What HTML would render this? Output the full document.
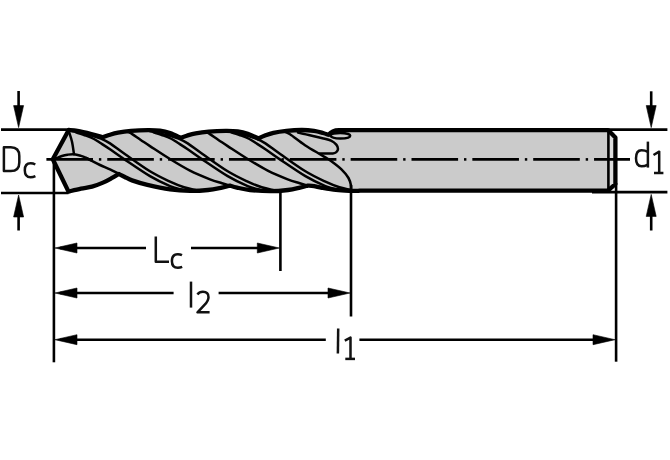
<!DOCTYPE html>
<html><head><meta charset="utf-8"><style>
html,body{margin:0;padding:0;background:#fff;width:670px;height:460px;overflow:hidden}
svg{display:block}
</style></head><body>
<svg width="670" height="460" viewBox="0 0 670 460">
<defs><filter id="bl" x="-5%" y="-5%" width="110%" height="110%"><feGaussianBlur stdDeviation="1.0"/></filter></defs>
<rect width="670" height="460" fill="#fff"/>
<g>
<path d="M 52.80 159.30 L 68.70 130.00 C 70.15 130.15 73.63 130.23 77.40 130.90 C 81.17 131.57 87.03 132.95 91.30 134.00 C 95.57 135.05 101.05 136.67 103.00 137.20 C 104.00 136.83 106.50 135.77 109.00 135.00 C 111.50 134.23 114.33 133.28 118.00 132.60 C 121.67 131.92 126.00 131.30 131.00 130.90 C 136.00 130.50 143.17 130.23 148.00 130.20 C 152.83 130.17 156.33 130.22 160.00 130.70 C 163.67 131.18 166.55 131.90 170.00 133.10 C 173.45 134.30 178.92 137.10 180.70 137.90 C 181.70 137.53 184.20 136.47 186.70 135.70 C 189.20 134.93 192.03 133.98 195.70 133.30 C 199.37 132.62 203.70 132.00 208.70 131.60 C 213.70 131.20 220.87 130.93 225.70 130.90 C 230.53 130.87 234.03 130.93 237.70 131.40 C 241.37 131.87 244.25 132.52 247.70 133.70 C 251.15 134.88 256.62 137.70 258.40 138.50 C 259.40 138.05 261.90 136.75 264.40 135.80 C 266.90 134.85 269.73 133.63 273.40 132.80 C 277.07 131.97 281.63 131.27 286.40 130.80 C 291.17 130.33 297.40 129.98 302.00 130.00 C 306.60 130.02 310.50 130.40 314.00 130.90 C 317.50 131.40 320.58 132.35 323.00 133.00 C 325.42 133.65 327.58 134.50 328.50 134.80 C 331 131.5, 334 129.8, 340 130.1 L 608 130.1 L 615.4 137.6 L 615.4 184 L 608 190.7 L 360 190.6 C 358.33 190.97 354.00 190.98 350.00 190.80 C 346.00 190.62 340.67 190.40 336.00 189.90 C 331.33 189.40 325.67 188.42 322.00 187.80 C 318.33 187.18 316.38 186.57 314.00 186.20 C 311.62 185.83 308.75 185.70 307.70 185.60 C 306.42 185.93 303.28 186.87 300.00 187.60 C 296.72 188.33 293.00 189.40 288.00 190.00 C 283.00 190.60 276.33 191.20 270.00 191.20 C 263.67 191.20 255.50 190.60 250.00 190.00 C 244.50 189.40 240.33 188.33 237.00 187.60 C 233.67 186.87 231.17 185.93 230.00 185.60 C 228.67 186.10 225.67 186.90 222.00 187.60 C 218.33 188.30 213.33 189.45 208.00 190.00 C 202.67 190.55 196.33 191.00 190.00 190.90 C 183.67 190.80 177.10 190.40 170.00 189.40 C 162.90 188.40 153.73 186.40 147.40 184.90 C 141.07 183.40 135.77 181.72 132.00 180.40 C 128.23 179.08 127.02 178.07 124.80 177.00 C 122.58 175.93 119.72 174.50 118.70 174.00 C 117.68 174.60 115.22 176.17 112.60 177.60 C 109.98 179.03 106.43 181.10 103.00 182.60 C 99.57 184.10 95.67 185.60 92.00 186.60 C 88.33 187.60 84.92 187.77 81.00 188.60 C 77.08 189.43 70.58 191.10 68.50 191.60 Z" fill="#cbcbcb" stroke="none"/>
<rect x="609.5" y="132" width="5" height="57" fill="#dcdcdc"/>
<path d="M 56 158.8 C 62 155.6 68 154.2 73.5 154.2 C 79 154.2 84 156 87.4 158.8 Z" fill="#d0d0d0"/>
<g fill="none" stroke="#000" stroke-width="2.5" stroke-linecap="round" stroke-linejoin="round">
<path d="M 72.00 131.00 C 74.00 131.47 80.33 132.92 84.00 133.80 C 87.67 134.68 91.17 135.50 94.00 136.30 C 96.83 137.10 98.33 137.42 101.00 138.60 C 103.67 139.78 106.03 140.83 110.00 143.40 C 113.97 145.97 118.13 149.35 124.80 154.00 C 131.47 158.65 142.47 166.68 150.00 171.30 C 157.53 175.92 164.33 179.03 170.00 181.70 C 175.67 184.37 179.67 185.88 184.00 187.30 C 188.33 188.72 194.00 189.72 196.00 190.20"/><path d="M 76.00 132.40 C 77.67 132.95 83.00 134.60 86.00 135.70 C 89.00 136.80 91.67 137.82 94.00 139.00 C 96.33 140.18 97.33 141.08 100.00 142.80 C 102.67 144.52 105.87 146.50 110.00 149.30 C 114.13 152.10 118.13 155.12 124.80 159.60 C 131.47 164.08 142.47 171.77 150.00 176.20 C 157.53 180.63 164.67 183.93 170.00 186.20 C 175.33 188.47 180.00 189.20 182.00 189.80"/><path d="M 149.70 131.00 C 151.70 131.47 158.03 132.92 161.70 133.80 C 165.37 134.68 168.87 135.50 171.70 136.30 C 174.53 137.10 176.03 137.42 178.70 138.60 C 181.37 139.78 183.73 140.83 187.70 143.40 C 191.67 145.97 195.83 149.35 202.50 154.00 C 209.17 158.65 220.17 166.68 227.70 171.30 C 235.23 175.92 242.03 179.03 247.70 181.70 C 253.37 184.37 257.37 185.88 261.70 187.30 C 266.03 188.72 271.70 189.72 273.70 190.20"/><path d="M 153.70 132.40 C 155.37 132.95 160.70 134.60 163.70 135.70 C 166.70 136.80 169.37 137.82 171.70 139.00 C 174.03 140.18 175.03 141.08 177.70 142.80 C 180.37 144.52 183.57 146.50 187.70 149.30 C 191.83 152.10 195.83 155.12 202.50 159.60 C 209.17 164.08 220.17 171.77 227.70 176.20 C 235.23 180.63 242.37 183.93 247.70 186.20 C 253.03 188.47 257.70 189.20 259.70 189.80"/><path d="M 227.40 131.00 C 229.40 131.47 235.73 132.92 239.40 133.80 C 243.07 134.68 246.57 135.50 249.40 136.30 C 252.23 137.10 253.73 137.42 256.40 138.60 C 259.07 139.78 261.43 140.83 265.40 143.40 C 269.37 145.97 273.53 149.35 280.20 154.00 C 286.87 158.65 297.87 166.68 305.40 171.30 C 312.93 175.92 319.73 179.03 325.40 181.70 C 331.07 184.37 335.07 185.88 339.40 187.30 C 343.73 188.72 349.40 189.72 351.40 190.20"/><path d="M 231.40 132.40 C 233.07 132.95 238.40 134.60 241.40 135.70 C 244.40 136.80 247.07 137.82 249.40 139.00 C 251.73 140.18 252.73 141.08 255.40 142.80 C 258.07 144.52 261.27 146.50 265.40 149.30 C 269.53 152.10 273.53 155.12 280.20 159.60 C 286.87 164.08 297.87 171.77 305.40 176.20 C 312.93 180.63 320.07 183.93 325.40 186.20 C 330.73 188.47 335.40 189.20 337.40 189.80"/><path d="M 128.00 131.80 C 128.77 132.23 130.53 133.07 132.60 134.40 C 134.67 135.73 137.50 137.85 140.40 139.80 C 143.30 141.75 145.07 142.90 150.00 146.10 C 154.93 149.30 163.33 154.92 170.00 159.00 C 176.67 163.08 183.33 167.22 190.00 170.60 C 196.67 173.98 204.67 177.20 210.00 179.30 C 215.33 181.40 218.67 182.12 222.00 183.20 C 225.33 184.28 228.67 185.37 230.00 185.80"/><path d="M 205.70 131.80 C 206.47 132.23 208.23 133.07 210.30 134.40 C 212.37 135.73 215.20 137.85 218.10 139.80 C 221.00 141.75 222.77 142.90 227.70 146.10 C 232.63 149.30 241.03 154.92 247.70 159.00 C 254.37 163.08 261.03 167.22 267.70 170.60 C 274.37 173.98 282.37 177.20 287.70 179.30 C 293.03 181.40 296.37 182.12 299.70 183.20 C 303.03 184.28 306.37 185.37 307.70 185.80"/><path d="M 284.00 131.50 C 285.00 131.97 286.50 132.02 290.00 134.30 C 293.50 136.58 299.67 141.68 305.00 145.20 C 310.33 148.72 317.67 152.77 322.00 155.40 C 326.33 158.03 327.72 158.63 331.00 161.00 C 334.28 163.37 338.78 166.77 341.70 169.60 C 344.62 172.43 346.95 175.35 348.50 178.00 C 350.05 180.65 350.58 183.33 351.00 185.50 C 351.42 187.67 351.00 190.08 351.00 191.00"/><path d="M 86.30 158.00 C 87.02 158.37 88.32 159.03 90.60 160.20 C 92.88 161.37 96.77 163.48 100.00 165.00 C 103.23 166.52 106.88 167.87 110.00 169.30 C 113.12 170.73 117.25 172.88 118.70 173.60"/><path d="M 68.90 131.50 C 69.42 133.20 71.15 137.92 72.00 141.70 C 72.85 145.48 73.67 152.12 74.00 154.20"/><path d="M 55.50 158.60 C 56.58 158.17 60.00 156.65 62.00 156.00 C 64.00 155.35 65.50 155.00 67.50 154.70 C 69.50 154.40 71.75 154.00 74.00 154.20 C 76.25 154.40 78.95 155.27 81.00 155.90 C 83.05 156.53 84.70 157.28 86.30 158.00 C 87.90 158.72 89.88 159.83 90.60 160.20"/><path d="M 298.00 132.60 C 299.33 132.90 303.33 133.80 306.00 134.40 C 308.67 135.00 311.27 135.57 314.00 136.20 C 316.73 136.83 319.57 137.47 322.40 138.20 C 325.23 138.93 328.68 139.53 331.00 140.60 C 333.32 141.67 335.13 143.20 336.30 144.60 C 337.47 146.00 338.00 147.75 338.00 149.00 C 338.00 150.25 337.17 151.35 336.30 152.10 C 335.43 152.85 334.52 153.27 332.80 153.50 C 331.08 153.73 328.17 153.50 326.00 153.50 C 323.83 153.50 320.83 153.50 319.80 153.50"/><path d="M 330.2 135.7 C 331 133.6 335 132.9 340.2 132.9 C 346 132.9 350.2 134 350.2 135.8 C 350.2 137.6 346 138.6 340.2 138.6 C 335 138.6 331.5 137.8 330.2 135.7 Z"/>
</g>
<g fill="none" stroke="#000" stroke-width="2.6" stroke-linecap="butt">
<path d="M 46.40 159.4 H 93.00"/><path d="M 98.90 159.4 H 101.30"/><path d="M 107.25 159.4 H 153.85"/><path d="M 159.75 159.4 H 162.15"/><path d="M 168.10 159.4 H 214.70"/><path d="M 220.60 159.4 H 223.00"/><path d="M 228.95 159.4 H 275.55"/><path d="M 281.45 159.4 H 283.85"/><path d="M 289.80 159.4 H 336.40"/><path d="M 342.30 159.4 H 344.70"/><path d="M 350.65 159.4 H 397.25"/><path d="M 403.15 159.4 H 405.55"/><path d="M 411.50 159.4 H 458.10"/><path d="M 464.00 159.4 H 466.40"/><path d="M 472.35 159.4 H 518.95"/><path d="M 524.85 159.4 H 527.25"/><path d="M 533.20 159.4 H 579.80"/><path d="M 585.70 159.4 H 588.10"/><path d="M 594.05 159.4 H 630.00"/>
</g>
<path d="M 608.4 131 V 190" stroke="#000" stroke-width="2.6" fill="none"/>
<path d="M 52.80 159.30 L 68.70 130.00 C 70.15 130.15 73.63 130.23 77.40 130.90 C 81.17 131.57 87.03 132.95 91.30 134.00 C 95.57 135.05 101.05 136.67 103.00 137.20 C 104.00 136.83 106.50 135.77 109.00 135.00 C 111.50 134.23 114.33 133.28 118.00 132.60 C 121.67 131.92 126.00 131.30 131.00 130.90 C 136.00 130.50 143.17 130.23 148.00 130.20 C 152.83 130.17 156.33 130.22 160.00 130.70 C 163.67 131.18 166.55 131.90 170.00 133.10 C 173.45 134.30 178.92 137.10 180.70 137.90 C 181.70 137.53 184.20 136.47 186.70 135.70 C 189.20 134.93 192.03 133.98 195.70 133.30 C 199.37 132.62 203.70 132.00 208.70 131.60 C 213.70 131.20 220.87 130.93 225.70 130.90 C 230.53 130.87 234.03 130.93 237.70 131.40 C 241.37 131.87 244.25 132.52 247.70 133.70 C 251.15 134.88 256.62 137.70 258.40 138.50 C 259.40 138.05 261.90 136.75 264.40 135.80 C 266.90 134.85 269.73 133.63 273.40 132.80 C 277.07 131.97 281.63 131.27 286.40 130.80 C 291.17 130.33 297.40 129.98 302.00 130.00 C 306.60 130.02 310.50 130.40 314.00 130.90 C 317.50 131.40 320.58 132.35 323.00 133.00 C 325.42 133.65 327.58 134.50 328.50 134.80 C 331 131.5, 334 129.8, 340 130.1 L 608 130.1 L 615.4 137.6 L 615.4 184 L 608 190.7 L 360 190.6 C 358.33 190.97 354.00 190.98 350.00 190.80 C 346.00 190.62 340.67 190.40 336.00 189.90 C 331.33 189.40 325.67 188.42 322.00 187.80 C 318.33 187.18 316.38 186.57 314.00 186.20 C 311.62 185.83 308.75 185.70 307.70 185.60 C 306.42 185.93 303.28 186.87 300.00 187.60 C 296.72 188.33 293.00 189.40 288.00 190.00 C 283.00 190.60 276.33 191.20 270.00 191.20 C 263.67 191.20 255.50 190.60 250.00 190.00 C 244.50 189.40 240.33 188.33 237.00 187.60 C 233.67 186.87 231.17 185.93 230.00 185.60 C 228.67 186.10 225.67 186.90 222.00 187.60 C 218.33 188.30 213.33 189.45 208.00 190.00 C 202.67 190.55 196.33 191.00 190.00 190.90 C 183.67 190.80 177.10 190.40 170.00 189.40 C 162.90 188.40 153.73 186.40 147.40 184.90 C 141.07 183.40 135.77 181.72 132.00 180.40 C 128.23 179.08 127.02 178.07 124.80 177.00 C 122.58 175.93 119.72 174.50 118.70 174.00 C 117.68 174.60 115.22 176.17 112.60 177.60 C 109.98 179.03 106.43 181.10 103.00 182.60 C 99.57 184.10 95.67 185.60 92.00 186.60 C 88.33 187.60 84.92 187.77 81.00 188.60 C 77.08 189.43 70.58 191.10 68.50 191.60 Z" fill="none" stroke="#000" stroke-width="4.3" stroke-linejoin="round"/>
<g fill="none" stroke="#000" stroke-width="2.6" stroke-linecap="butt">
<path d="M 1 129.6 H 68.7"/><path d="M 1 193.0 H 68.5"/><path d="M 18.6 91 V 110"/><path d="M 18.6 212 V 230.5"/><path d="M 608 129.6 H 667.4"/><path d="M 592 192.1 H 667.4"/><path d="M 651.2 91.3 V 110"/><path d="M 651.2 212 V 230.5"/><path d="M 53.9 159.3 V 362.3"/><path d="M 280.4 190.5 V 271"/><path d="M 351 185 V 316.5"/><path d="M 616.1 183 V 361.7"/><path d="M 60 248 H 146"/><path d="M 191 248 H 270"/><path d="M 60 293.0 H 173.6"/><path d="M 218.6 293.0 H 340"/><path d="M 60 339.7 H 325.8"/><path d="M 359.4 339.7 H 605"/>
</g>
<g fill="#000" stroke="#000" stroke-width="0.6" stroke-linejoin="miter">
<path d="M 18.60 127.60 L 13.60 105.60 L 23.60 105.60 Z"/><path d="M 18.60 195.00 L 13.60 217.00 L 23.60 217.00 Z"/><path d="M 651.20 127.60 L 646.20 105.60 L 656.20 105.60 Z"/><path d="M 651.20 194.40 L 646.20 216.40 L 656.20 216.40 Z"/><path d="M 55.00 248.00 L 77.00 243.00 L 77.00 253.00 Z"/><path d="M 279.30 248.00 L 257.30 243.00 L 257.30 253.00 Z"/><path d="M 55.00 293.00 L 77.00 288.00 L 77.00 298.00 Z"/><path d="M 350.00 293.00 L 328.00 288.00 L 328.00 298.00 Z"/><path d="M 55.00 339.70 L 77.00 334.70 L 77.00 344.70 Z"/><path d="M 615.00 339.70 L 593.00 334.70 L 593.00 344.70 Z"/>
</g>
<g fill="none" stroke="#111" stroke-width="2.5" stroke-linecap="butt" stroke-linejoin="round">
<path d="M 3.9 147.2 H 10.8 C 16.8 147.2 19.3 150.3 19.3 156 V 162.5 C 19.3 168.2 16.8 171.1 10.8 171.1 H 3.9 Z"/><path d="M 35.3 164.5 C 33.7 163.6 32.2 163.3 30.6 163.3 C 26.6 163.3 24.8 165.6 24.8 170.2 C 24.8 175 26.6 177.2 30.6 177.2 C 32.2 177.2 33.7 176.9 35.4 176.1"/><path d="M 155.8 236.6 V 261.8 H 169"/><path d="M 182.0 255.2 C 180.6 254.5 179.3 254.2 177.8 254.2 C 173.9 254.2 171.9 256.5 171.9 261.0 C 171.9 265.6 173.9 267.8 177.8 267.8 C 179.3 267.8 180.7 267.5 182.2 266.9"/><path d="M 191 281.6 V 307.6"/><path d="M 197.4 294.4 C 198.8 292.6 200.6 291.8 202.9 291.8 C 206.5 291.8 208.5 293.7 208.5 297.2 C 208.5 300.2 206.9 302.4 204.5 304.8 L 197.5 312.3 H 209.6"/><path d="M 338.2 328.4 L 337.9 353.4"/><path d="M 344.8 340.6 L 350.5 337.6 V 358.8"/><path d="M 345.3 358.9 H 355.0"/><path d="M 647.9 141.6 V 167.6"/><path d="M 647.9 151.8 C 645.8 150.7 644 150.3 641.5 150.3 C 637.6 150.3 636 153.1 636 158.3 C 636 163.6 637.6 166.3 641.5 166.3 C 643.9 166.3 646 165.6 647.9 164.6"/><path d="M 653.5 155.0 L 659.2 151.7 V 172.9"/><path d="M 654.0 173.0 H 663.4"/>
</g>
</g>
</svg>
</body></html>
